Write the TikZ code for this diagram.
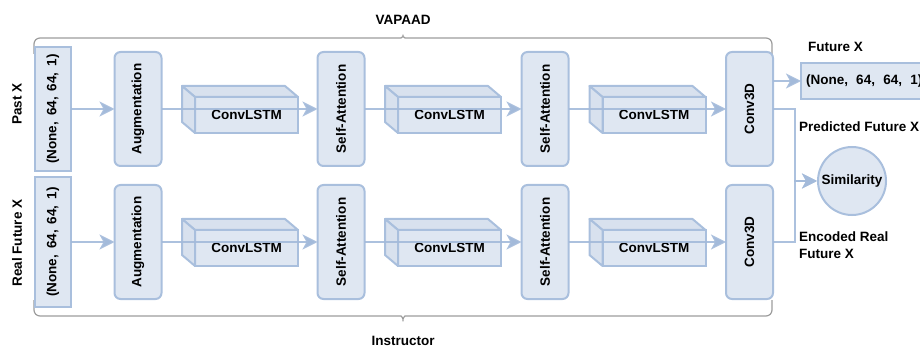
\documentclass[tikz,border=0pt]{standalone}
\usepackage{fontspec}
\setmainfont{Liberation Sans}
\usepackage{graphicx}
\usetikzlibrary{arrows.meta,calc}
\definecolor{bd}{HTML}{A9BFDD}
\definecolor{fl}{HTML}{DFE7F2}
\definecolor{sd}{HTML}{D8E1EE}
\definecolor{ar}{HTML}{A3BADA}
\definecolor{br}{HTML}{9C9C9C}
\begin{document}
\begin{tikzpicture}[x=1pt,y=-1pt,
  font=\fontsize{13.5}{15}\selectfont\bfseries,
  inbox/.style={draw=bd, fill=fl, line width=2pt, minimum width=36pt, inner sep=0pt, outer sep=0pt},
  blk/.style={draw=bd, fill=fl, line width=2pt, rounded corners=6pt, minimum width=47pt, minimum height=114pt, inner sep=0pt, outer sep=0pt},
  front/.style={draw=bd, fill=fl, line width=2pt, minimum width=103pt, minimum height=36pt, inner sep=0pt, outer sep=0pt},
  face/.style={draw=bd, fill=sd, line width=2pt, line join=round},
  conn/.style={draw=ar, line width=2.2pt, draw opacity=0.9, -{Stealth[length=15pt,width=15pt,inset=4pt]}},
  brc/.style={draw=br, line width=1.2pt, rounded corners=6pt},
  lbl/.style={inner sep=0pt}
]
\useasboundingbox (0,0) rectangle (920,347);

% braces
\draw[brc] (34,54) -- (34,38) -- (395,38) .. controls (401,38) and (403,36) .. (403,31) .. controls (403,36) and (405,38) .. (411,38) -- (772,38) -- (772,54);
\draw[brc] (34,300) -- (34,316) -- (395,316) .. controls (401,316) and (403,318) .. (403,325) .. controls (403,318) and (405,316) .. (411,316) -- (772,316) -- (772,300);
\node[lbl] (vap) at (403,20) {VAPAAD};
\node[lbl] (ins) at (403,341) {Instructor};

% side labels
\node[lbl, rotate=90] (pastl) at (17,104) {Past X};
\node[lbl, rotate=90] (realfl) at (17,243) {Real Future X};

% input boxes
\node[inbox, minimum height=124pt] (in1) at (53,109) {\rotatebox{90}{(None, \,64, \,64, \,1)}};
\node[inbox, minimum height=130pt] (in2) at (53,242) {\rotatebox{90}{(None, \,64, \,64, \,1)}};

% row blocks
\foreach \r/\y in {1/109, 2/242} {
  \node[blk] (aug\r) at (138,\y) {\rotatebox{90}{Augmentation}};
  \node[blk] (sa\r a) at (341,\y) {\rotatebox{90}{Self-Attention}};
  \node[blk] (sa\r b) at (545,\y) {\rotatebox{90}{Self-Attention}};
  \node[blk] (cv\r) at (749.5,\y) {\rotatebox{90}{Conv3D}};
}

% cuboids
\foreach \n/\cx/\cy in {c1a/246.5/115, c1b/449.5/115, c1c/654/115, c2a/246.5/248, c2b/449.5/248, c2c/654/248} {
  \node[front] (\n) at (\cx,\cy) {ConvLSTM};
  \draw[face] (\n.north west) -- ++(-13,-11) -- ($(\n.north east)+(-13,-11)$) -- (\n.north east) -- cycle;
  \draw[face] (\n.north west) -- ++(-13,-11) -- ++(0,36) -- (\n.south west) -- cycle;
}

% output box
\node[draw=bd, fill=fl, line width=2pt, minimum height=36pt, minimum width=150pt, text width=140pt, align=left, inner xsep=3pt, anchor=west, outer sep=0pt] (out) at (801,81) {(None, \;64, \;64, \;1)};
\node[lbl, anchor=west] (futl) at (808,47) {Future X};

% similarity
\node[draw=bd, fill=fl, line width=2pt, circle, minimum size=68pt, inner sep=0pt] (sim) at (852,181) {Similarity};
\coordinate (j) at (795,181);
\node[lbl, anchor=west] (predl) at (799,127) {Predicted Future X};
\node[lbl, anchor=north west, align=left] (encl) at (799,232) {Encoded Real\\[2pt]Future X};

% connectors
\foreach \r in {1,2} {
  \draw[conn] (in\r) -- (aug\r);
  \draw[conn] (aug\r) -- (sa\r a);
  \draw[conn] (sa\r a) -- (sa\r b);
  \draw[conn] (sa\r b) -- (cv\r);
}
\draw[conn] (cv1.east |- out.west) -- (out.west);
\draw[conn] (cv1.east) -| (j) -- (sim.west);
\draw[conn] (cv2.east) -| (j) -- (sim.west);
\end{tikzpicture}
\end{document}
